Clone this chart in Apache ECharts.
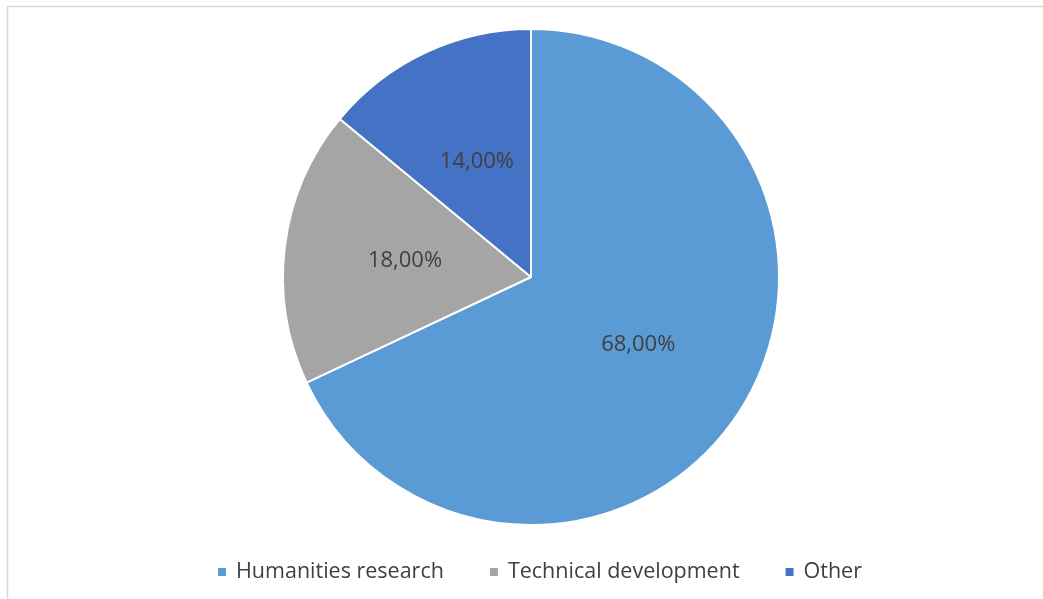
<!DOCTYPE html>
<html><head><meta charset="utf-8">
<script src="https://cdn.jsdelivr.net/npm/echarts@6/dist/echarts.min.js"></script>
<style>html,body{margin:0;padding:0;background:#fff}#c{width:1043px;height:599px}</style>
</head><body><div id="c"></div>
<script>
const categories = ["Humanities research", "Technical development", "Other"];
const values = [68, 18, 14];
const colors = ["#5B9BD5", "#A5A5A5", "#4472C4"];

const chart = echarts.init(document.getElementById('c'), null, {renderer: 'canvas'});
chart.setOption({
  backgroundColor: '#fff',
  animation: false,
  graphic: [{
    type: 'rect', shape: {x: 7.5, y: 6.5, width: 1100, height: 700},
    style: {fill: 'none', stroke: '#d9d9d9', lineWidth: 1.5}, silent: true
  }],
  legend: {
    top: 556, left: 211, icon: 'rect', itemWidth: 10, itemHeight: 10, itemGap: 44,
    textStyle: {color: '#404040', fontSize: 21.5, fontFamily: 'Open Sans', padding: [0, 0, 0, 4]},
    data: categories
  },
  series: [{
    type: 'pie', center: [531, 277], radius: 248, startAngle: 90, clockwise: true,
    itemStyle: {borderColor: '#fff', borderWidth: 2},
    label: {position: 'inside', formatter: p => p.value.toFixed(2).replace('.', ',') + '%',
      color: '#404040', fontSize: 22, fontFamily: 'Open Sans'},
    labelLine: {show: false},
    emphasis: {disabled: true},
    data: categories.map((n, i) => ({name: n, value: values[i], itemStyle: {color: colors[i]}}))
  }]
});
</script></body></html>
